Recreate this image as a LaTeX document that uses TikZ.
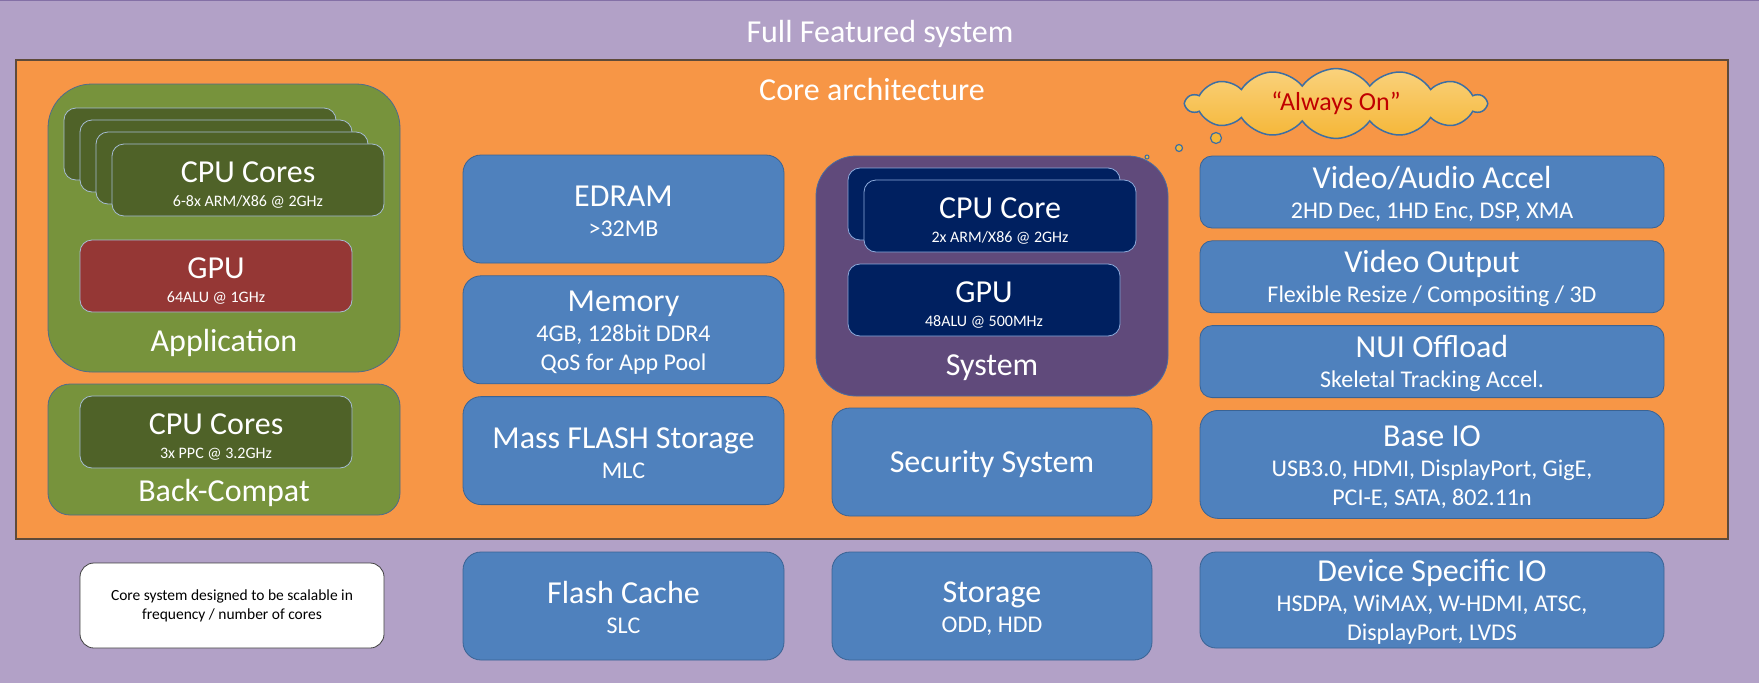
\documentclass[tikz,border=0pt]{standalone}
\usepackage{fontspec}
\setmainfont{Carlito}
\usepackage{tikz}
\usetikzlibrary{positioning,shapes.symbols}

\definecolor{bgpurple}{HTML}{B2A1C7}
\definecolor{bgedge}{HTML}{8470A6}
\definecolor{coreorange}{HTML}{F79646}
\definecolor{coreedge}{HTML}{5E4A3A}
\definecolor{appgreen}{HTML}{77933C}
\definecolor{appedge}{HTML}{4E6B8C}
\definecolor{cardgreen}{HTML}{4F6228}
\definecolor{cardedge}{HTML}{A6BCD3}
\definecolor{gpured}{HTML}{953735}
\definecolor{syspurple}{HTML}{604A7B}
\definecolor{sysedge}{HTML}{4A6CA0}
\definecolor{navy}{HTML}{002060}
\definecolor{navyedge}{HTML}{8DAADB}
\definecolor{boxblue}{HTML}{4F81BD}
\definecolor{boxedge}{HTML}{3A6394}
\definecolor{cloudgold}{HTML}{F5B637}
\definecolor{cloudlight}{HTML}{FAD27C}
\definecolor{cloudedge}{HTML}{3D6FA3}
\definecolor{alwaysred}{HTML}{C00000}

\newcommand{\boxhead}[1]{{\fontsize{32}{36}\selectfont\rule{0pt}{26pt}#1}}
\newcommand{\cardhead}[1]{{\fontsize{32}{36}\selectfont\rule{0pt}{30.6pt}#1}}

\begin{document}
\begin{tikzpicture}[x=1pt,y=-1pt,
  blue box/.style={rectangle,rounded corners=18pt,fill=boxblue,draw=boxedge,line width=0.8pt,
    text=white,align=center,font=\fontsize{24}{29}\selectfont,inner sep=0pt,
    minimum width=321pt,minimum height=108pt},
  io box/.style={blue box,rounded corners=12pt,minimum width=464pt,minimum height=72pt},
  group box/.style={rectangle,fill=appgreen,draw=appedge,line width=0.8pt,minimum width=352pt},
  sys box/.style={rectangle,rounded corners=40pt,fill=syspurple,draw=sysedge,line width=0.8pt,
    minimum width=352pt,minimum height=240pt},
  core card/.style={rectangle,rounded corners=12pt,fill=cardgreen,draw=cardedge,line width=0.8pt,
    text=white,align=center,font=\fontsize{16}{23.5}\selectfont,inner sep=0pt,
    minimum width=272pt,minimum height=72pt},
  gpu card/.style={core card,fill=gpured},
  navy card/.style={core card,fill=navy,draw=navyedge},
  group label/.style={text=white,font=\fontsize{32}{36}\selectfont},
  note box/.style={rectangle,rounded corners=14pt,fill=white,draw=black!75,line width=0.8pt,
    align=center,font=\fontsize{15.5}{19}\selectfont,minimum width=304pt,minimum height=85pt},
  bubble/.style={circle,inner sep=0pt,fill=cloudgold,draw=cloudedge,line width=1.2pt}]
  \useasboundingbox (0,0) rectangle (1759,683);
  % background frames
  \fill[bgpurple] (0,0) rectangle (1759,683);
  \draw[bgedge,line width=2pt] (0,0) -- (1759,0);
  \filldraw[fill=coreorange,draw=coreedge,line width=1.2pt] (16,60) rectangle (1728,539);
  \node[group label] (full) at (880,33.5) {Full Featured system};
  \node[group label] (corelbl) at (872,90) {Core architecture};

  % application + back-compat
  \node[group box,rounded corners=44pt,minimum height=288pt] (app) at (224,228) {};
  \node[core card] (cpu1) at (200,144) {};
  \node[core card] (cpu2) at (216,156) {};
  \node[core card] (cpu3) at (232,168) {};
  \node[core card] (cpu) at (248,180) {\cardhead{CPU Cores}\\6-8x ARM/X86 @ 2GHz};
  \node[gpu card] (gpu) at (216,276) {\cardhead{GPU}\\64ALU @ 1GHz};
  \node[group label] (applbl) at (224,342.5) {Application};
  \node[group box,rounded corners=22pt,minimum height=131pt] (bc) at (224,449.5) {};
  \node[core card] (bccpu) at (216,432) {\cardhead{CPU Cores}\\3x PPC @ 3.2GHz};
  \node[group label] (bclbl) at (224,492.5) {Back-Compat};
  \node[note box] (note) at (232,605.5) {Core system designed to be scalable in\\frequency / number of cores};

  % memory column
  \node[blue box] (edram) at (623.5,209) {\boxhead{EDRAM}\\[1pt]>32MB};
  \node[blue box,below=12pt of edram] (memory) {\boxhead{Memory}\\[1pt]4GB, 128bit DDR4\\QoS for App Pool};
  \node[blue box,below=12pt of memory] (flash) {\boxhead{Mass FLASH Storage}\\[1pt]MLC};
  \node[blue box] (cache) at (623.5,606) {\boxhead{Flash Cache}\\[1pt]SLC};

  % system column
  \node[sys box] (sys) at (992,276) {};
  \node[navy card] (score1) at (984,204) {};
  \node[navy card] (score) at (1000,216) {\cardhead{CPU Core}\\2x ARM/X86 @ 2GHz};
  \node[navy card] (sgpu) at (984,300) {\cardhead{GPU}\\48ALU @ 500MHz};
  \node[group label] (syslbl) at (992,368) {System};
  \node[blue box,minimum width=320pt] (sec) at (992,462) {\boxhead{Security System}};
  \node[blue box,minimum width=320pt] (storage) at (992,606) {\boxhead{Storage}\\[1pt]ODD, HDD};

  % io column
  \node[io box] (video) at (1432,192) {\boxhead{Video/Audio Accel}\\[1pt]2HD Dec, 1HD Enc, DSP, XMA};
  \node[io box,below=12pt of video] (vout) {\boxhead{Video Output}\\[1pt]Flexible Resize / Compositing / 3D};
  \node[io box,below=12pt of vout] (nui) {\boxhead{NUI Offload}\\[1pt]Skeletal Tracking Accel.};
  \node[io box,rounded corners=18pt,minimum height=108pt,below=12pt of nui] (baseio)
    {\boxhead{Base IO}\\[1pt]USB3.0, HDMI, DisplayPort, GigE,\\PCI-E, SATA, 802.11n};
  \node[io box,rounded corners=16pt,minimum height=96pt] (devio) at (1432,600)
    {\boxhead{Device Specific IO}\\[1pt]HSDPA, WiMAX, W-HDMI, ATSC,\\DisplayPort, LVDS};

  % always on
  \node[cloud,cloud puffs=14,cloud puff arc=110,aspect=6,minimum width=300pt,minimum height=44pt,
    top color=cloudlight,bottom color=cloudgold,draw=cloudedge,line width=1.5pt,
    text=alwaysred,font=\fontsize{26}{30}\selectfont] (cloud) at (1336,103.5) {“Always On”};
  \node[bubble,minimum size=11pt] (bub1) at (1216,138) {};
  \node[bubble,minimum size=7pt] (bub2) at (1179,148) {};
  \node[bubble,minimum size=4pt,line width=1pt] (bub3) at (1147,157) {};
\end{tikzpicture}
\end{document}
